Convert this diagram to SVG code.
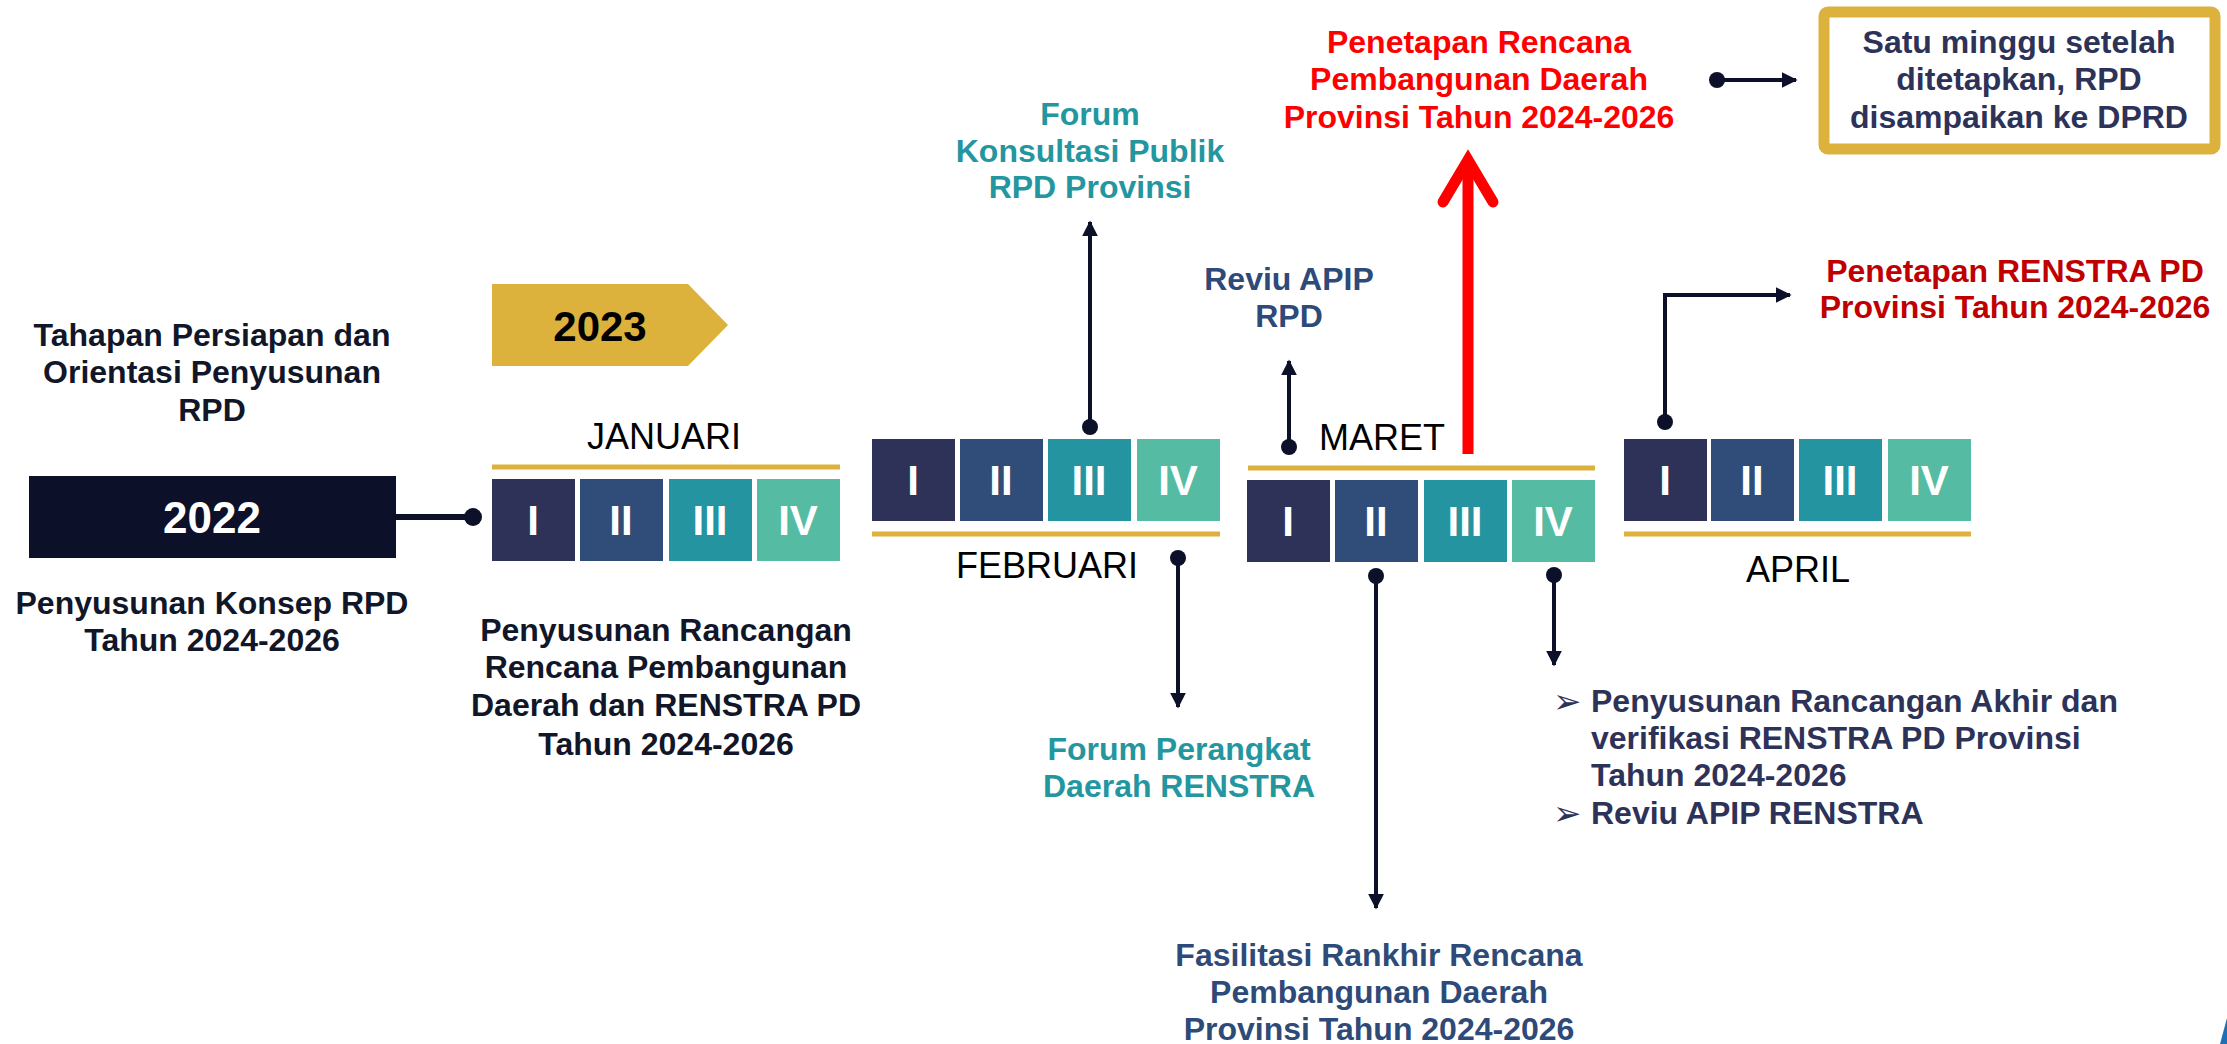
<svg xmlns="http://www.w3.org/2000/svg" width="2227" height="1044" viewBox="0 0 2227 1044">
<defs>
<style>
.t{font-family:"Liberation Sans",Arial,sans-serif;font-weight:bold;font-size:32px;text-anchor:middle}
.dark{fill:#111628}
.navy{fill:#2e4a78}
.teal{fill:#2496a0}
.ink{fill:#2d3258}
.month{font-family:"Liberation Sans",Arial,sans-serif;font-size:36px;text-anchor:middle;fill:#000}
.num{font-family:"Liberation Sans",Arial,sans-serif;font-weight:bold;font-size:42px;text-anchor:middle;fill:#fff}
.q1{fill:#2e3259}.q2{fill:#304c78}.q3{fill:#2394a0}.q4{fill:#55bca3}
.gold{stroke:#dcb23c;stroke-width:5}
.conn{stroke:#0c1029;stroke-width:4;fill:none}
.dot{fill:#0c1029}
.bul{font-family:"DejaVu Sans",sans-serif;font-size:34px;fill:#2d3258}
</style>
<marker id="ah" viewBox="0 0 10 10" refX="9" refY="5" markerWidth="4" markerHeight="4" orient="auto" markerUnits="strokeWidth">
<path d="M0,0 L10,5 L0,10 z" fill="#0c1029"/>
</marker>
</defs>
<rect width="2227" height="1044" fill="#fff"/>

<g id="intro">
<text class="t dark" x="212" y="346">Tahapan Persiapan dan</text>
<text class="t dark" x="212" y="383">Orientasi Penyusunan</text>
<text class="t dark" x="212" y="421">RPD</text>
</g>

<g id="y2022">
<rect x="29" y="476" width="367" height="82" fill="#0c1029"/>
<text x="212" y="533" font-family="Liberation Sans,Arial,sans-serif" font-weight="bold" font-size="44" text-anchor="middle" fill="#fff">2022</text>
</g>
<g id="konsep">
<text class="t dark" x="212" y="614">Penyusunan Konsep RPD</text>
<text class="t dark" x="212" y="651">Tahun 2024-2026</text>
</g>

<g id="y2023">
<polygon points="492,284 688,284 728,325 688,366 492,366" fill="#dcb23c"/>
<text x="600" y="341" font-family="Liberation Sans,Arial,sans-serif" font-weight="bold" font-size="42" text-anchor="middle" fill="#000">2023</text>
</g>

<g id="januari">
<text class="month" x="664" y="449">JANUARI</text>
<line class="gold" x1="492" y1="467" x2="840" y2="467"/>
<rect class="q1" x="492" y="479" width="83" height="82"/>
<rect class="q2" x="580" y="479" width="83" height="82"/>
<rect class="q3" x="669" y="479" width="83" height="82"/>
<rect class="q4" x="757" y="479" width="83" height="82"/>
<text class="num" x="533" y="535">I</text>
<text class="num" x="621" y="535">II</text>
<text class="num" x="710" y="535">III</text>
<text class="num" x="798" y="535">IV</text>
</g>
<g id="rancangan">
<text class="t dark" x="666" y="641">Penyusunan Rancangan</text>
<text class="t dark" x="666" y="678">Rencana Pembangunan</text>
<text class="t dark" x="666" y="716">Daerah dan RENSTRA PD</text>
<text class="t dark" x="666" y="755">Tahun 2024-2026</text>
</g>

<g id="februari">
<rect class="q1" x="872" y="439" width="83" height="82"/>
<rect class="q2" x="960" y="439" width="83" height="82"/>
<rect class="q3" x="1048" y="439" width="83" height="82"/>
<rect class="q4" x="1137" y="439" width="83" height="82"/>
<text class="num" x="913" y="495">I</text>
<text class="num" x="1001" y="495">II</text>
<text class="num" x="1089" y="495">III</text>
<text class="num" x="1178" y="495">IV</text>
<line class="gold" x1="872" y1="534" x2="1220" y2="534"/>
<text class="month" x="1047" y="578">FEBRUARI</text>
</g>
<g id="konsultasi">
<text class="t teal" x="1090" y="125">Forum</text>
<text class="t teal" x="1090" y="162">Konsultasi Publik</text>
<text class="t teal" x="1090" y="198">RPD Provinsi</text>
</g>
<g id="perangkat">
<text class="t teal" x="1179" y="760">Forum Perangkat</text>
<text class="t teal" x="1179" y="797">Daerah RENSTRA</text>
</g>

<g id="maret">
<text class="month" x="1382" y="450">MARET</text>
<line class="gold" x1="1248" y1="468" x2="1595" y2="468"/>
<rect class="q1" x="1247" y="480" width="83" height="82"/>
<rect class="q2" x="1335" y="480" width="83" height="82"/>
<rect class="q3" x="1424" y="480" width="83" height="82"/>
<rect class="q4" x="1512" y="480" width="83" height="82"/>
<text class="num" x="1288" y="536">I</text>
<text class="num" x="1376" y="536">II</text>
<text class="num" x="1465" y="536">III</text>
<text class="num" x="1553" y="536">IV</text>
</g>
<g id="reviu">
<text class="t navy" x="1289" y="290">Reviu APIP</text>
<text class="t navy" x="1289" y="327">RPD</text>
</g>
<g id="fasilitasi">
<text class="t navy" x="1379" y="966">Fasilitasi Rankhir Rencana</text>
<text class="t navy" x="1379" y="1003">Pembangunan Daerah</text>
<text class="t navy" x="1379" y="1040">Provinsi Tahun 2024-2026</text>
</g>
<g id="akhir">
<text class="bul" x="1553" y="713">➢</text>
<text class="t ink" x="1591" y="712" style="text-anchor:start">Penyusunan Rancangan Akhir dan</text>
<text class="t ink" x="1591" y="749" style="text-anchor:start">verifikasi RENSTRA PD Provinsi</text>
<text class="t ink" x="1591" y="786" style="text-anchor:start">Tahun 2024-2026</text>
<text class="bul" x="1553" y="825">➢</text>
<text class="t ink" x="1591" y="824" style="text-anchor:start">Reviu APIP RENSTRA</text>
</g>

<g id="april">
<rect class="q1" x="1624" y="439" width="83" height="82"/>
<rect class="q2" x="1711" y="439" width="83" height="82"/>
<rect class="q3" x="1799" y="439" width="83" height="82"/>
<rect class="q4" x="1888" y="439" width="83" height="82"/>
<text class="num" x="1665" y="495">I</text>
<text class="num" x="1752" y="495">II</text>
<text class="num" x="1840" y="495">III</text>
<text class="num" x="1929" y="495">IV</text>
<line class="gold" x1="1624" y1="534" x2="1971" y2="534"/>
<text class="month" x="1798" y="582">APRIL</text>
</g>
<g id="renstra">
<text class="t" x="2015" y="282" fill="#c00000">Penetapan RENSTRA PD</text>
<text class="t" x="2015" y="318" fill="#c00000">Provinsi Tahun 2024-2026</text>
</g>

<g id="penetapan-rpd">
<text class="t" x="1479" y="53" fill="#ff0000">Penetapan Rencana</text>
<text class="t" x="1479" y="90" fill="#ff0000">Pembangunan Daerah</text>
<text class="t" x="1479" y="128" fill="#ff0000">Provinsi Tahun 2024-2026</text>
</g>

<g id="dprd">
<rect x="1824" y="12" width="391" height="137" rx="4" fill="#fff" stroke="#dcb23c" stroke-width="11"/>
<text class="t ink" x="2019" y="53">Satu minggu setelah</text>
<text class="t ink" x="2019" y="90">ditetapkan, RPD</text>
<text class="t ink" x="2019" y="128">disampaikan ke DPRD</text>
</g>

<g id="connectors">
<line x1="396" y1="517" x2="473" y2="517" stroke="#0c1029" stroke-width="6"/>
<circle class="dot" cx="473" cy="517" r="9"/>

<line class="conn" x1="1090" y1="427" x2="1090" y2="222" marker-end="url(#ah)"/>
<circle class="dot" cx="1090" cy="427" r="8"/>

<line class="conn" x1="1289" y1="447" x2="1289" y2="361" marker-end="url(#ah)"/>
<circle class="dot" cx="1289" cy="447" r="8"/>

<line class="conn" x1="1178" y1="558" x2="1178" y2="707" marker-end="url(#ah)"/>
<circle class="dot" cx="1178" cy="558" r="8"/>

<line class="conn" x1="1376" y1="576" x2="1376" y2="908" marker-end="url(#ah)"/>
<circle class="dot" cx="1376" cy="576" r="8"/>

<line class="conn" x1="1554" y1="575" x2="1554" y2="665" marker-end="url(#ah)"/>
<circle class="dot" cx="1554" cy="575" r="8"/>

<polyline class="conn" points="1665,422 1665,295 1790,295" marker-end="url(#ah)"/>
<circle class="dot" cx="1665" cy="422" r="8"/>

<line class="conn" x1="1717" y1="80" x2="1796" y2="80" marker-end="url(#ah)"/>
<circle class="dot" cx="1717" cy="80" r="8"/>

<line x1="1468" y1="454" x2="1468" y2="162" stroke="#ff0000" stroke-width="11"/>
<polyline points="1443,202 1468,160 1493,202" fill="none" stroke="#ff0000" stroke-width="11" stroke-linecap="round" stroke-linejoin="miter"/>
</g>

<polygon points="2227,1018 2220,1044 2227,1044" fill="#1f6fb5"/>
</svg>
